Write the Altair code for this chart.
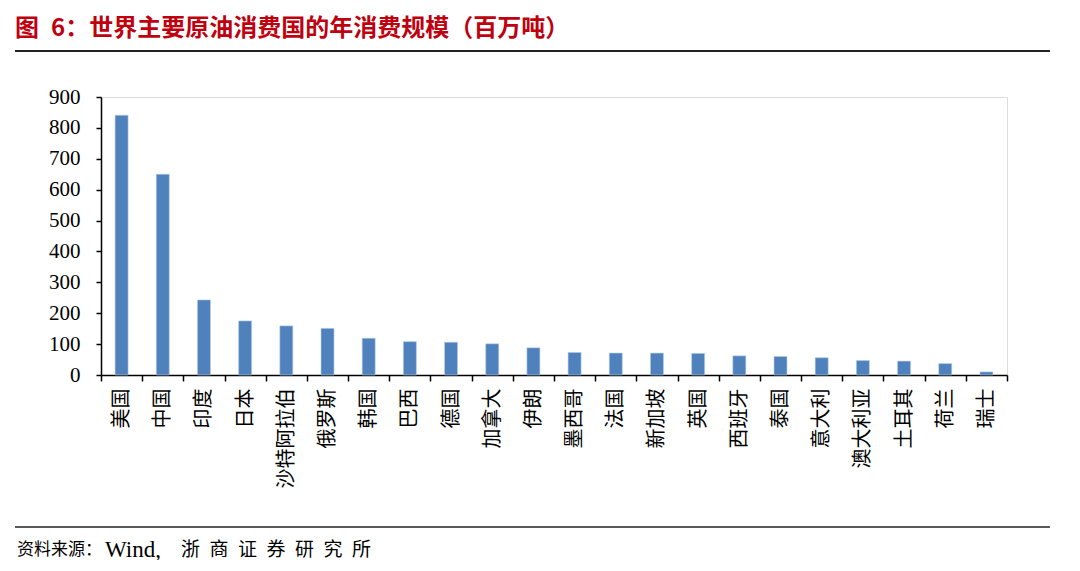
import altair as alt
import pandas as pd

countries = ["美国", "中国", "印度", "日本", "沙特阿拉伯", "俄罗斯", "韩国", "巴西", "德国", "加拿大",
             "伊朗", "墨西哥", "法国", "新加坡", "英国", "西班牙", "泰国", "意大利", "澳大利亚",
             "土耳其", "荷兰", "瑞士"]
values = [841, 650, 243, 175, 159, 151, 119, 108, 106, 101,
          88, 73, 71, 71, 70, 62, 60, 56, 47, 45, 37, 10]
y_ticks = [0, 100, 200, 300, 400, 500, 600, 700, 800, 900]

title_text = "图\u20026：世界主要原油消费国的年消费规模（百万吨）"
source_parts = ["资料来源：", "Wind,", "浙\u2002商\u2002证\u2002券\u2002研\u2002究\u2002所"]

df = pd.DataFrame({"country": countries, "value": values})

W, H = 906, 278
CJK = "Noto Sans CJK SC"
SERIF = "Liberation Serif, DejaVu Serif, serif"

bars = alt.Chart(df).mark_bar(color="#4F81BD", size=13, stroke="#B9CDE5", strokeWidth=0.6).encode(
    x=alt.X("country:N", sort=countries, title=None,
            scale=alt.Scale(paddingInner=0, paddingOuter=0),
            axis=alt.Axis(labelAngle=-90, labelAlign="right", labelBaseline="middle",
                          labelFont=CJK, labelFontSize=20,
                          labelColor="black", labelPadding=7,
                          tickBand="extent", tickColor="black", tickSize=6,
                          domainColor="black", domainWidth=1.5, tickWidth=1.5)),
    y=alt.Y("value:Q", title=None,
            scale=alt.Scale(domain=[0, 900], nice=False),
            axis=alt.Axis(values=y_ticks, labelFont=SERIF, labelFontSize=21,
                          labelColor="black", tickColor="black", tickSize=5,
                          domainColor="black", domainWidth=1.5, tickWidth=1.5,
                          grid=False, labelPadding=16)),
)

deco = pd.DataFrame({"k": [0]})
title = alt.Chart(deco).mark_text(align="left", baseline="middle", font=CJK, fontSize=24,
                                  fontWeight="bold", color="#C0000F").encode(
    x=alt.value(-86), y=alt.value(-68), text=alt.value(title_text))
title_line = alt.Chart(deco).mark_rule(color="#222222", strokeWidth=2).encode(
    x=alt.value(-86), x2=alt.value(949), y=alt.value(-46))
foot_line = alt.Chart(deco).mark_rule(color="#222222", strokeWidth=1.5).encode(
    x=alt.value(-86), x2=alt.value(949), y=alt.value(430))
foot1 = alt.Chart(deco).mark_text(align="left", baseline="middle", font=CJK, fontSize=17,
                                  color="black").encode(
    x=alt.value(-84), y=alt.value(453), text=alt.value(source_parts[0]))
foot2 = alt.Chart(deco).mark_text(align="left", baseline="middle", font=SERIF, fontSize=23,
                                  color="black").encode(
    x=alt.value(4), y=alt.value(453), text=alt.value(source_parts[1]))
foot3 = alt.Chart(deco).mark_text(align="left", baseline="middle", font=CJK, fontSize=19,
                                  color="black").encode(
    x=alt.value(80), y=alt.value(453), text=alt.value(source_parts[2]))

chart = alt.layer(bars, title, title_line, foot_line, foot1, foot2, foot3).properties(
    width=W, height=H,
    autosize=alt.AutoSizeParams(type="none"),
    padding={"left": 93, "top": 89, "right": 65, "bottom": 185},
).configure_view(strokeWidth=0).configure(background="white")

chart.save("out.html", embed_options={"renderer": "svg", "actions": False})
